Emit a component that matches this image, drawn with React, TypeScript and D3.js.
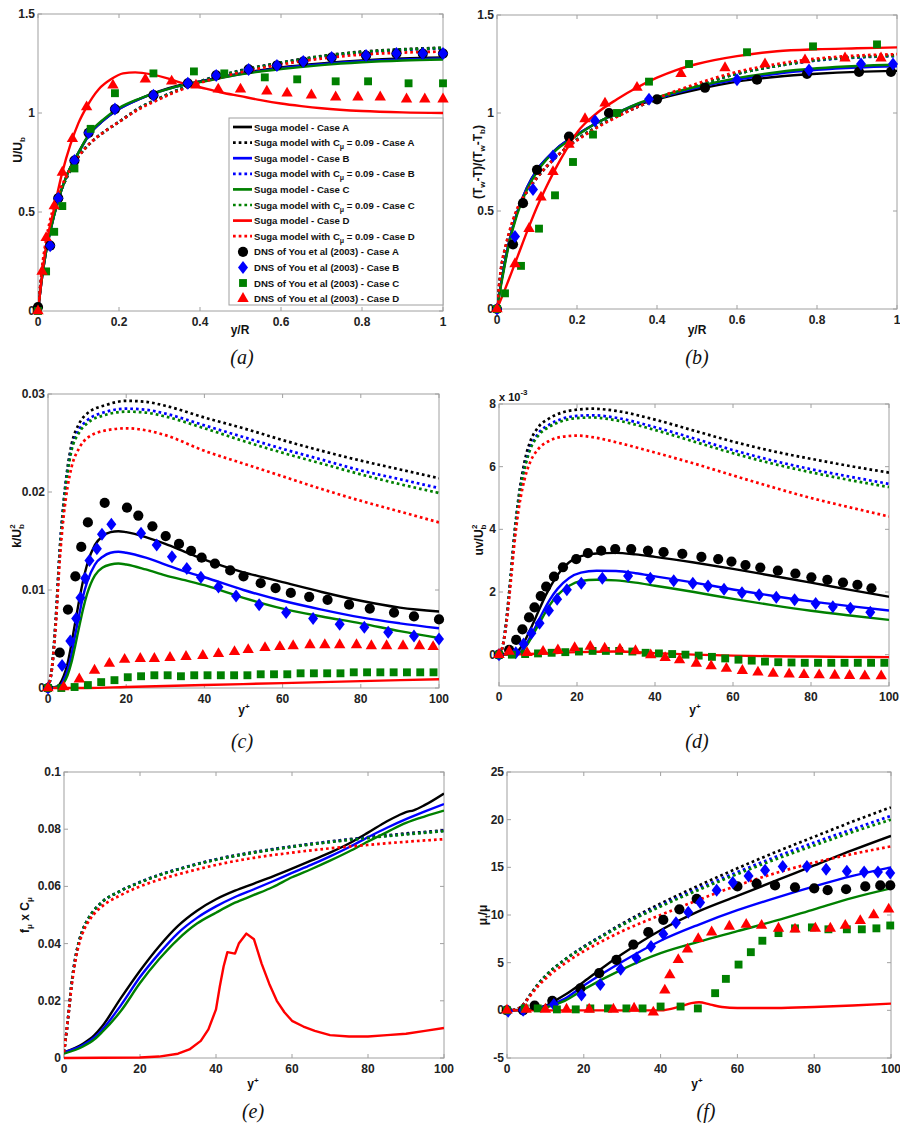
import React from 'react';
import * as d3 from 'd3';

type P = [number, number];

// ---------- Panel (a): U/Ub vs y/R ----------
const aSolidA: P[] = [[0,0],[0.01,0.17],[0.02,0.3],[0.03,0.4],[0.05,0.56],[0.07,0.68],[0.1,0.8],[0.13,0.9],[0.16,0.96],[0.2,1.02],[0.25,1.07],[0.3,1.11],[0.35,1.14],[0.4,1.16],[0.5,1.2],[0.6,1.23],[0.7,1.25],[0.8,1.265],[0.9,1.275],[1,1.28]];
const aSolidB: P[] = [[0,0],[0.01,0.17],[0.02,0.3],[0.03,0.4],[0.05,0.56],[0.07,0.68],[0.1,0.8],[0.13,0.9],[0.16,0.96],[0.2,1.02],[0.25,1.07],[0.3,1.108],[0.35,1.137],[0.4,1.157],[0.5,1.197],[0.6,1.226],[0.7,1.246],[0.8,1.261],[0.9,1.27],[1,1.275]];
const aSolidC: P[] = [[0,0],[0.01,0.17],[0.02,0.3],[0.03,0.4],[0.05,0.56],[0.07,0.68],[0.1,0.8],[0.13,0.905],[0.16,0.965],[0.2,1.025],[0.25,1.072],[0.3,1.108],[0.35,1.137],[0.4,1.156],[0.5,1.195],[0.6,1.222],[0.7,1.242],[0.8,1.256],[0.9,1.265],[1,1.27]];
const aSolidD: P[] = [[0,0],[0.01,0.18],[0.02,0.33],[0.04,0.52],[0.06,0.7],[0.08,0.84],[0.1,0.95],[0.12,1.03],[0.15,1.12],[0.18,1.17],[0.21,1.2],[0.24,1.205],[0.28,1.195],[0.32,1.175],[0.35,1.155],[0.4,1.13],[0.45,1.105],[0.5,1.085],[0.55,1.065],[0.6,1.048],[0.65,1.035],[0.7,1.024],[0.8,1.01],[0.9,1.003],[1,1.0]];
const aDotA: P[] = [[0,0],[0.01,0.2],[0.02,0.33],[0.03,0.43],[0.05,0.57],[0.07,0.67],[0.1,0.78],[0.13,0.85],[0.16,0.9],[0.2,0.955],[0.25,1.025],[0.3,1.075],[0.35,1.12],[0.4,1.16],[0.5,1.215],[0.6,1.255],[0.7,1.288],[0.8,1.31],[0.9,1.322],[1,1.33]];
const aDotB: P[] = [[0,0],[0.01,0.2],[0.02,0.33],[0.03,0.43],[0.05,0.57],[0.07,0.67],[0.1,0.78],[0.13,0.85],[0.16,0.9],[0.2,0.955],[0.25,1.025],[0.3,1.075],[0.35,1.12],[0.4,1.158],[0.5,1.212],[0.6,1.252],[0.7,1.284],[0.8,1.305],[0.9,1.318],[1,1.325]];
const aDotC: P[] = [[0,0],[0.01,0.2],[0.02,0.33],[0.03,0.43],[0.05,0.57],[0.07,0.67],[0.1,0.78],[0.13,0.85],[0.16,0.9],[0.2,0.955],[0.25,1.025],[0.3,1.075],[0.35,1.12],[0.4,1.158],[0.5,1.213],[0.6,1.253],[0.7,1.286],[0.8,1.308],[0.9,1.32],[1,1.328]];
const aDotD: P[] = [[0,0],[0.01,0.22],[0.02,0.36],[0.03,0.46],[0.05,0.59],[0.07,0.68],[0.1,0.78],[0.13,0.85],[0.16,0.9],[0.2,0.955],[0.25,1.02],[0.3,1.07],[0.35,1.115],[0.4,1.152],[0.5,1.205],[0.6,1.245],[0.7,1.275],[0.8,1.295],[0.9,1.305],[1,1.31]];
const aDnsA: P[] = [[0,0.02],[0.03,0.33],[0.05,0.57],[0.09,0.76],[0.125,0.9],[0.19,1.02],[0.285,1.09],[0.37,1.15],[0.44,1.19],[0.52,1.22],[0.59,1.24],[0.655,1.26],[0.725,1.28],[0.81,1.29],[0.885,1.3],[0.95,1.3],[1,1.3]];
const aDnsB: P[] = [[0.03,0.33],[0.05,0.57],[0.09,0.76],[0.125,0.9],[0.19,1.02],[0.285,1.09],[0.37,1.15],[0.44,1.19],[0.52,1.22],[0.59,1.24],[0.655,1.26],[0.725,1.28],[0.81,1.29],[0.885,1.3],[0.95,1.3],[1,1.3]];
const aDnsC: P[] = [[0,0],[0.02,0.2],[0.04,0.4],[0.06,0.53],[0.09,0.72],[0.13,0.92],[0.19,1.1],[0.285,1.2],[0.385,1.21],[0.46,1.2],[0.56,1.18],[0.64,1.17],[0.735,1.16],[0.815,1.16],[0.915,1.15],[1,1.15]];
const aDnsD: P[] = [[0,0],[0.01,0.2],[0.02,0.37],[0.04,0.53],[0.06,0.7],[0.085,0.87],[0.12,1.03],[0.185,1.14],[0.265,1.17],[0.33,1.16],[0.39,1.14],[0.445,1.12],[0.5,1.12],[0.565,1.11],[0.615,1.1],[0.675,1.09],[0.735,1.08],[0.79,1.08],[0.845,1.08],[0.91,1.07],[0.955,1.07],[1,1.07]];

// ---------- Panel (b): (Tw-T)/(Tw-Tb) vs y/R ----------
const bSolidA: P[] = [[0,0],[0.01,0.13],[0.02,0.24],[0.03,0.34],[0.05,0.49],[0.075,0.62],[0.1,0.71],[0.125,0.77],[0.15,0.82],[0.2,0.89],[0.25,0.95],[0.3,1.0],[0.35,1.04],[0.4,1.07],[0.5,1.12],[0.6,1.16],[0.7,1.185],[0.8,1.2],[0.9,1.21],[1,1.215]];
const bSolidB: P[] = [[0,0],[0.01,0.13],[0.02,0.24],[0.03,0.34],[0.05,0.49],[0.075,0.62],[0.1,0.71],[0.125,0.77],[0.15,0.82],[0.2,0.89],[0.25,0.95],[0.3,1.0],[0.35,1.045],[0.4,1.075],[0.5,1.13],[0.6,1.17],[0.7,1.2],[0.8,1.22],[0.9,1.232],[1,1.238]];
const bSolidC: P[] = [[0,0],[0.01,0.12],[0.02,0.23],[0.03,0.33],[0.05,0.48],[0.075,0.61],[0.1,0.7],[0.125,0.765],[0.15,0.815],[0.2,0.885],[0.25,0.95],[0.3,1.0],[0.35,1.047],[0.4,1.08],[0.5,1.135],[0.6,1.178],[0.7,1.208],[0.8,1.228],[0.9,1.24],[1,1.246]];
const bSolidD: P[] = [[0,0],[0.02,0.1],[0.05,0.26],[0.08,0.42],[0.1,0.52],[0.125,0.63],[0.15,0.73],[0.175,0.82],[0.2,0.9],[0.25,1.0],[0.3,1.07],[0.35,1.13],[0.4,1.18],[0.45,1.22],[0.5,1.25],[0.6,1.29],[0.7,1.315],[0.8,1.325],[0.9,1.33],[1,1.335]];
const bDotA: P[] = [[0,0],[0.01,0.2],[0.02,0.3],[0.03,0.38],[0.05,0.5],[0.075,0.6],[0.1,0.67],[0.15,0.78],[0.2,0.865],[0.25,0.93],[0.3,0.985],[0.35,1.03],[0.4,1.07],[0.5,1.14],[0.6,1.2],[0.7,1.24],[0.8,1.27],[0.9,1.285],[1,1.295]];
const bDotB: P[] = [[0,0],[0.01,0.2],[0.02,0.3],[0.03,0.38],[0.05,0.5],[0.075,0.6],[0.1,0.67],[0.15,0.78],[0.2,0.865],[0.25,0.93],[0.3,0.985],[0.35,1.03],[0.4,1.07],[0.5,1.14],[0.6,1.2],[0.7,1.24],[0.8,1.268],[0.9,1.283],[1,1.29]];
const bDotC: P[] = [[0,0],[0.01,0.2],[0.02,0.3],[0.03,0.38],[0.05,0.5],[0.075,0.6],[0.1,0.67],[0.15,0.78],[0.2,0.865],[0.25,0.93],[0.3,0.985],[0.35,1.03],[0.4,1.07],[0.5,1.14],[0.6,1.2],[0.7,1.24],[0.8,1.27],[0.9,1.285],[1,1.292]];
const bDotD: P[] = [[0,0],[0.01,0.21],[0.02,0.31],[0.03,0.39],[0.05,0.51],[0.075,0.6],[0.1,0.67],[0.15,0.78],[0.2,0.86],[0.25,0.925],[0.3,0.98],[0.35,1.03],[0.4,1.075],[0.5,1.15],[0.6,1.21],[0.7,1.25],[0.8,1.278],[0.9,1.293],[1,1.3]];
const bDnsA: P[] = [[0,0],[0.04,0.33],[0.065,0.54],[0.1,0.71],[0.18,0.88],[0.28,1.0],[0.4,1.07],[0.52,1.13],[0.65,1.17],[0.775,1.2],[0.905,1.21],[0.985,1.21]];
const bDnsB: P[] = [[0,0],[0.045,0.37],[0.09,0.61],[0.14,0.78],[0.245,0.96],[0.38,1.07],[0.6,1.17],[0.78,1.22],[0.91,1.25],[0.99,1.25]];
const bDnsC: P[] = [[0,0],[0.02,0.08],[0.06,0.22],[0.105,0.41],[0.145,0.58],[0.19,0.75],[0.24,0.89],[0.3,1.0],[0.38,1.16],[0.48,1.25],[0.625,1.31],[0.79,1.34],[0.95,1.35]];
const bDnsD: P[] = [[0,0],[0.045,0.23],[0.08,0.41],[0.11,0.57],[0.14,0.7],[0.18,0.84],[0.22,0.97],[0.27,1.05],[0.35,1.13],[0.46,1.2],[0.57,1.23],[0.67,1.25],[0.77,1.27],[0.87,1.28],[0.96,1.28]];

// ---------- Panel (c): k/Ub^2 vs y+ ----------
const cSolidA: P[] = [[0,0],[2,0.0001],[3,0.0004],[4,0.0012],[5,0.0025],[6,0.0045],[7,0.0068],[8,0.009],[9,0.011],[10,0.0126],[12,0.0146],[14,0.0155],[16,0.0159],[18,0.016],[20,0.0159],[25,0.0154],[30,0.0147],[35,0.0139],[40,0.0131],[45,0.0124],[50,0.0118],[55,0.0113],[60,0.0108],[70,0.0098],[80,0.0089],[90,0.0082],[100,0.0078]];
const cSolidB: P[] = [[0,0],[3,0.0002],[4,0.0008],[5,0.0018],[6,0.0034],[7,0.0055],[8,0.0075],[9,0.0094],[10,0.0108],[12,0.0126],[14,0.0134],[16,0.0138],[18,0.0139],[20,0.0138],[25,0.0133],[30,0.0126],[35,0.0119],[40,0.0113],[50,0.01],[60,0.0089],[70,0.008],[80,0.0072],[90,0.0066],[100,0.0061]];
const cSolidC: P[] = [[0,0],[3,0.0001],[4,0.0005],[5,0.0013],[6,0.0026],[7,0.0044],[8,0.0063],[9,0.0081],[10,0.0096],[12,0.0115],[14,0.0123],[16,0.0126],[18,0.0127],[20,0.0126],[25,0.0121],[30,0.0115],[35,0.011],[40,0.0105],[50,0.0092],[60,0.0081],[70,0.0073],[80,0.0066],[90,0.0058],[100,0.0051]];
const cSolidD: P[] = [[0,0],[10,0],[20,0.0001],[40,0.0003],[60,0.0005],[80,0.0007],[100,0.0009]];
const cDotA: P[] = [[0,0],[1,0.002],[2,0.007],[3,0.014],[4,0.019],[5,0.0225],[6,0.0248],[8,0.027],[10,0.028],[15,0.0289],[20,0.0293],[25,0.0292],[30,0.0288],[40,0.0276],[50,0.0265],[60,0.0253],[70,0.0242],[80,0.0232],[90,0.0223],[100,0.0214]];
const cDotB: P[] = [[0,0],[1,0.002],[2,0.007],[3,0.014],[4,0.0188],[5,0.0222],[6,0.0244],[8,0.0264],[10,0.0273],[15,0.0282],[20,0.0285],[25,0.0284],[30,0.028],[40,0.0268],[50,0.0256],[60,0.0244],[70,0.0233],[80,0.0222],[90,0.0213],[100,0.0204]];
const cDotC: P[] = [[0,0],[1,0.002],[2,0.007],[3,0.0138],[4,0.0186],[5,0.022],[6,0.0242],[8,0.0261],[10,0.027],[15,0.0279],[20,0.0282],[25,0.0281],[30,0.0277],[40,0.0265],[50,0.0252],[60,0.024],[70,0.0229],[80,0.0218],[90,0.0208],[100,0.0199]];
const cDotD: P[] = [[0,0],[1,0.002],[2,0.0065],[3,0.013],[4,0.0175],[5,0.0205],[6,0.0225],[8,0.0245],[10,0.0255],[15,0.0263],[20,0.0265],[25,0.0263],[30,0.0258],[40,0.0242],[50,0.0229],[60,0.0216],[70,0.0203],[80,0.0191],[90,0.018],[100,0.0169]];
const cDnsA: P[] = [[0,0],[3,0.0036],[5.1,0.008],[7,0.0114],[8.5,0.0144],[10.2,0.0169],[14.5,0.0189],[20.2,0.0184],[23.1,0.0176],[26.7,0.0165],[30.1,0.0155],[33.5,0.0147],[36.6,0.014],[39.3,0.0133],[42.7,0.0127],[46.6,0.012],[50,0.0114],[54.4,0.0107],[58.2,0.0102],[62.1,0.0097],[66.8,0.0093],[71.5,0.009],[77,0.0085],[82.3,0.0081],[88.5,0.0077],[93.6,0.0073],[100,0.007]];
const cDnsB: P[] = [[0,0],[3.6,0.0023],[5.7,0.0048],[7.2,0.0071],[8.3,0.0092],[9.5,0.0112],[10.6,0.013],[12.5,0.0142],[13.8,0.0157],[16.2,0.0167],[23.8,0.0158],[27.8,0.0146],[31.7,0.0134],[35.5,0.0122],[39.1,0.0113],[43.6,0.0103],[48.1,0.0094],[54,0.0085],[60.9,0.0077],[67.8,0.0071],[74.6,0.0065],[80.9,0.0062],[87,0.0057],[93.6,0.0053],[100,0.005]];
const cDnsC: P[] = [[0,0],[3.4,0],[6.8,0.0001],[10.2,0.0003],[13.6,0.0006],[17,0.0008],[20.4,0.0011],[23.8,0.0012],[27.2,0.0013],[30.6,0.0013],[34,0.0012],[37.4,0.0013],[40.8,0.0013],[44.2,0.0013],[47.6,0.0013],[51,0.0013],[54.4,0.0014],[57.8,0.0014],[61.2,0.0014],[64.6,0.0015],[68,0.0015],[71.4,0.0015],[74.8,0.0015],[78.2,0.0016],[81.6,0.0016],[85,0.0016],[88.4,0.0016],[91.8,0.0016],[95.2,0.0016],[98.6,0.0016]];
const cDnsD: P[] = [[0,0],[4,0.0001],[8,0.0009],[11.9,0.0018],[15.7,0.0025],[19.6,0.0029],[23.6,0.003],[27.2,0.003],[31.2,0.0031],[35.3,0.0032],[39.6,0.0033],[43.6,0.0035],[47.7,0.0037],[51.2,0.0039],[55.5,0.0041],[59.3,0.0042],[62.7,0.0043],[67,0.0044],[70.8,0.0044],[74.6,0.0044],[78.9,0.0044],[82.7,0.0043],[86.6,0.0043],[90.8,0.0043],[95,0.0043],[98.5,0.0042]];

// ---------- Panel (d): uv/Ub^2 (x10^-3) vs y+ ----------
const dSolidA: P[] = [[0,0],[4,0.05],[6,0.3],[8,0.8],[10,1.35],[12,1.9],[14,2.35],[16,2.7],[18,2.95],[20,3.1],[25,3.23],[30,3.25],[35,3.2],[40,3.12],[50,2.94],[60,2.74],[70,2.52],[80,2.3],[90,2.07],[100,1.85]];
const dSolidB: P[] = [[0,0],[5,0.05],[7,0.35],[9,0.8],[11,1.3],[13,1.75],[15,2.1],[18,2.45],[21,2.62],[25,2.68],[30,2.67],[35,2.6],[40,2.5],[50,2.3],[60,2.08],[70,1.88],[80,1.7],[90,1.55],[100,1.41]];
const dSolidC: P[] = [[0,0],[5,0.03],[7,0.28],[9,0.7],[11,1.15],[13,1.58],[15,1.9],[18,2.2],[21,2.35],[25,2.39],[30,2.37],[35,2.3],[40,2.2],[50,2.0],[60,1.78],[70,1.58],[80,1.4],[90,1.25],[100,1.11]];
const dSolidD: P[] = [[0,0],[10,0.03],[20,0.08],[30,0.1],[40,0.05],[50,0],[60,-0.03],[70,-0.05],[80,-0.06],[90,-0.07],[100,-0.08]];
const dDotA: P[] = [[0,0],[1,0.3],[2,1.2],[3,2.5],[4,3.9],[5,5.0],[6,5.8],[7,6.4],[8,6.8],[10,7.25],[13,7.55],[16,7.72],[20,7.82],[24,7.85],[30,7.78],[40,7.5],[50,7.15],[60,6.8],[70,6.5],[80,6.25],[90,6.02],[100,5.81]];
const dDotB: P[] = [[0,0],[1,0.3],[2,1.2],[3,2.5],[4,3.85],[5,4.9],[6,5.65],[7,6.2],[8,6.6],[10,7.05],[13,7.35],[16,7.52],[20,7.62],[24,7.64],[30,7.56],[40,7.26],[50,6.9],[60,6.53],[70,6.2],[80,5.92],[90,5.68],[100,5.45]];
const dDotC: P[] = [[0,0],[1,0.3],[2,1.2],[3,2.5],[4,3.85],[5,4.88],[6,5.62],[7,6.15],[8,6.55],[10,6.98],[13,7.28],[16,7.45],[20,7.55],[24,7.57],[30,7.48],[40,7.17],[50,6.8],[60,6.43],[70,6.1],[80,5.82],[90,5.57],[100,5.35]];
const dDotD: P[] = [[0,0],[1,0.3],[2,1.1],[3,2.3],[4,3.6],[5,4.6],[6,5.3],[7,5.8],[8,6.15],[10,6.55],[13,6.83],[16,6.95],[20,6.99],[25,6.92],[30,6.78],[40,6.45],[50,6.1],[60,5.72],[70,5.35],[80,5.0],[90,4.7],[100,4.41]];
const dDnsA: P[] = [[0,0],[2.6,0.15],[4.4,0.47],[6,0.81],[7.7,1.19],[9.1,1.51],[10.7,1.87],[12.1,2.17],[14.1,2.49],[16.4,2.79],[19.8,3.05],[22.8,3.24],[26.2,3.32],[29.8,3.37],[33.9,3.37],[38.2,3.32],[42.2,3.27],[47,3.22],[51.9,3.12],[56.2,3.05],[59.6,2.97],[63.2,2.86],[67,2.78],[71.5,2.68],[76,2.59],[80.1,2.47],[84.2,2.39],[88.2,2.3],[91.9,2.23],[95.5,2.12]];
const dDnsB: P[] = [[0,0],[4.3,0.06],[6.3,0.34],[8.3,0.68],[10.4,1.0],[12.8,1.41],[14.9,1.77],[17.4,2.07],[21.1,2.28],[26.5,2.44],[33.1,2.51],[38.8,2.44],[44.8,2.36],[49.7,2.28],[53.6,2.19],[57.7,2.09],[62.3,1.98],[66.7,1.91],[71.1,1.83],[75.8,1.75],[81.2,1.63],[85.6,1.53],[90.1,1.48],[95.2,1.35]];
const dDnsC: P[] = [[0,0],[3.3,0],[6.7,0.02],[10,0.04],[13.5,0.06],[17,0.08],[20.5,0.1],[24,0.12],[27.4,0.12],[30.8,0.12],[34.2,0.1],[37.6,0.06],[41,0.04],[44.4,0.02],[47.8,0.0],[51.2,-0.03],[54.6,-0.07],[58,-0.12],[61.4,-0.16],[64.8,-0.19],[68.2,-0.22],[71.6,-0.24],[75,-0.25],[78.4,-0.26],[81.8,-0.26],[85.2,-0.26],[88.6,-0.26],[92,-0.26],[95.4,-0.26],[98.8,-0.26]];
const dDnsD: P[] = [[0,0],[2.6,0.1],[7.2,0.06],[11.3,0.1],[15.1,0.15],[19.4,0.22],[23.4,0.26],[27.1,0.2],[31,0.17],[35,0.12],[38.9,-0.01],[42.6,-0.1],[46.3,-0.17],[50.6,-0.28],[54.4,-0.36],[58.3,-0.44],[62.4,-0.51],[66.4,-0.56],[70.3,-0.6],[74.4,-0.62],[78.2,-0.64],[82.1,-0.65],[86.1,-0.66],[89.9,-0.67],[93.8,-0.68],[98,-0.68]];

// ---------- Panel (e): f_mu x C_mu vs y+ ----------
const eSolidA: P[] = [[0,0.002],[5,0.005],[8,0.008],[10,0.011],[15,0.021],[20,0.0305],[25,0.039],[30,0.0462],[35,0.0515],[40,0.0555],[45,0.0585],[50,0.061],[55,0.0635],[60,0.0662],[65,0.069],[70,0.0718],[75,0.075],[80,0.0788],[85,0.0828],[88,0.0848],[90,0.086],[92,0.0866],[95,0.0885],[100,0.0925]];
const eSolidB: P[] = [[0,0.002],[5,0.0045],[8,0.0072],[10,0.0098],[15,0.0185],[20,0.0283],[25,0.0365],[30,0.0437],[35,0.049],[40,0.053],[45,0.0563],[50,0.059],[55,0.0618],[60,0.0647],[65,0.0675],[70,0.0705],[75,0.0737],[80,0.0772],[85,0.0805],[90,0.0835],[95,0.0862],[100,0.0888]];
const eSolidC: P[] = [[0,0.0015],[5,0.004],[8,0.0065],[10,0.009],[15,0.0165],[20,0.0262],[25,0.0345],[30,0.0415],[35,0.047],[40,0.0508],[45,0.0543],[50,0.057],[55,0.0598],[60,0.0632],[65,0.066],[70,0.069],[75,0.0722],[80,0.0757],[85,0.079],[90,0.0822],[95,0.0845],[100,0.0865]];
const eSolidD: P[] = [[0,0],[20,0.0002],[25,0.0005],[30,0.0015],[33,0.003],[36,0.006],[38,0.01],[40,0.017],[41,0.025],[42,0.032],[43,0.037],[45,0.0365],[46,0.04],[48,0.0435],[50,0.0415],[52,0.033],[54,0.026],[56,0.02],[58,0.016],[60,0.013],[63,0.011],[66,0.0095],[70,0.008],[75,0.0075],[80,0.0075],[85,0.008],[90,0.0085],[95,0.0095],[100,0.0105]];
const eDotA: P[] = [[0,0.002],[1,0.013],[2,0.026],[3,0.035],[4,0.041],[5,0.045],[7,0.05],[10,0.0545],[15,0.0585],[20,0.0615],[25,0.064],[30,0.066],[40,0.0695],[50,0.072],[60,0.074],[70,0.0757],[80,0.0772],[90,0.0785],[100,0.0796]];
const eDotB: P[] = [[0,0.002],[1,0.013],[2,0.026],[3,0.035],[4,0.041],[5,0.045],[7,0.05],[10,0.0545],[15,0.0585],[20,0.0615],[25,0.064],[30,0.066],[40,0.0694],[50,0.0719],[60,0.0739],[70,0.0756],[80,0.077],[90,0.0783],[100,0.0794]];
const eDotC: P[] = [[0,0.002],[1,0.013],[2,0.026],[3,0.035],[4,0.041],[5,0.045],[7,0.05],[10,0.0545],[15,0.0585],[20,0.0614],[25,0.0639],[30,0.0659],[40,0.0693],[50,0.0718],[60,0.0738],[70,0.0755],[80,0.0769],[90,0.0782],[100,0.0793]];
const eDotD: P[] = [[0,0.002],[1,0.013],[2,0.025],[3,0.034],[4,0.04],[5,0.044],[7,0.0488],[10,0.053],[15,0.057],[20,0.06],[25,0.0623],[30,0.0642],[40,0.0675],[50,0.07],[60,0.0718],[70,0.0733],[80,0.0745],[90,0.0756],[100,0.0765]];

// ---------- Panel (f): mu_t/mu vs y+ ----------
const fSolidA: P[] = [[0,0],[5,0.1],[10,0.5],[12,0.9],[15,1.6],[20,3.0],[25,4.5],[30,5.9],[40,8.4],[50,10.4],[60,12.0],[70,13.6],[80,15.2],[90,16.8],[100,18.3]];
const fSolidB: P[] = [[0,0],[5,0.05],[10,0.4],[15,1.2],[20,2.6],[30,5.1],[40,7.3],[50,9.0],[60,10.5],[70,11.8],[80,13.0],[90,14.1],[100,15.0]];
const fSolidC: P[] = [[0,0],[5,0.05],[10,0.3],[15,1.0],[20,2.2],[30,4.3],[40,6.0],[50,7.2],[60,8.3],[70,9.4],[80,10.6],[90,11.8],[100,12.8]];
const fSolidD: P[] = [[0,0],[40,0],[45,0.4],[48,0.75],[50,0.85],[53,0.6],[56,0.35],[60,0.25],[70,0.25],[80,0.35],[90,0.5],[100,0.7]];
const fDotA: P[] = [[0,0],[2,0.05],[4,0.5],[6,1.6],[8,2.7],[10,3.6],[15,5.3],[20,6.7],[25,7.9],[30,9.1],[40,11.2],[50,13.1],[60,14.9],[70,16.6],[80,18.2],[90,19.8],[100,21.3]];
const fDotB: P[] = [[0,0],[2,0.05],[4,0.5],[6,1.6],[8,2.7],[10,3.6],[15,5.3],[20,6.65],[25,7.85],[30,9.0],[40,11.0],[50,12.8],[60,14.5],[70,16.1],[80,17.6],[90,19.0],[100,20.4]];
const fDotC: P[] = [[0,0],[2,0.05],[4,0.5],[6,1.6],[8,2.7],[10,3.6],[15,5.3],[20,6.6],[25,7.8],[30,8.95],[40,10.9],[50,12.65],[60,14.3],[70,15.85],[80,17.3],[90,18.7],[100,20.0]];
const fDotD: P[] = [[0,0],[2,0.05],[4,0.5],[6,1.5],[8,2.5],[10,3.3],[15,4.9],[20,6.2],[25,7.3],[30,8.3],[40,10.0],[50,11.6],[60,13.1],[70,14.4],[80,15.5],[90,16.4],[100,17.2]];
const fDnsA: P[] = [[0,0],[4.2,0],[7.2,0.5],[11.8,1.0],[19.1,2.3],[24,3.9],[28.5,5.3],[32.9,6.9],[36.8,8.2],[40.7,9.5],[44.9,10.6],[49.4,11.7],[60,13.0],[65,13.3],[69.8,13.1],[75,12.9],[80,12.8],[83.5,12.6],[88.3,12.7],[93.3,13.0],[97.2,13.1],[99.8,13.1]];
const fDnsB: P[] = [[0.3,-0.1],[4.2,0],[12.2,0.6],[19.4,1.6],[24.3,2.7],[29.6,4.3],[33.7,5.5],[37.5,6.7],[40.7,8.0],[44,9.2],[47.2,10.3],[50.3,11.3],[54.6,12.6],[58.8,13.4],[62.9,14.1],[67.2,14.7],[71.8,15.1],[78.1,15.1],[83.1,14.8],[88.5,14.6],[93,14.5],[96.6,14.5],[99.8,14.4]];
const fDnsC: P[] = [[0,0],[4.6,0.2],[8,0.2],[13,0.1],[17.9,0.1],[21.7,0.2],[26.3,0.2],[31.1,0.2],[35.3,0.2],[40,0.4],[45.2,0.4],[49.7,0.2],[54.2,1.8],[57,3.3],[60.3,4.8],[63.5,6.1],[66.5,7.3],[70.7,8.1],[75,8.6],[79.4,8.7],[83.7,8.5],[88.5,8.5],[92.4,8.5],[96.2,8.6],[99.8,8.9]];
const fDnsD: P[] = [[0,0],[5,0.1],[10,0.1],[15.5,0.1],[21.4,0.1],[27.7,0.1],[33.1,0.2],[38.1,-0.2],[41.1,2.1],[42.4,3.7],[44.6,5.3],[47,6.4],[49.8,7.5],[53.3,8.2],[57.9,8.8],[62.3,9.0],[66.3,8.9],[70.7,8.6],[75,8.5],[80.3,8.6],[84.2,8.6],[88.1,8.9],[92,9.4],[95.5,10.0],[99.4,10.6]];

// ---------- ticks ----------
const ticksYR = [0, 0.2, 0.4, 0.6, 0.8, 1];
const ticksYplus = [0, 20, 40, 60, 80, 100];
const ticksA = [0, 0.5, 1, 1.5];
const ticksC = [0, 0.01, 0.02, 0.03];
const ticksD = [0, 2, 4, 6, 8];
const ticksE = [0, 0.02, 0.04, 0.06, 0.08, 0.1];
const ticksF = [-5, 0, 5, 10, 15, 20, 25];

const legendLabels = [
  'Suga model - Case A', 'Suga model with C|μ| = 0.09 - Case A',
  'Suga model - Case B', 'Suga model with C|μ| = 0.09 - Case B',
  'Suga model - Case C', 'Suga model with C|μ| = 0.09 - Case C',
  'Suga model - Case D', 'Suga model with C|μ| = 0.09 - Case D',
  'DNS of You et al (2003) - Case A', 'DNS of You et al (2003) - Case B',
  'DNS of You et al (2003) - Case C', 'DNS of You et al (2003) - Case D',
];

const BLACK = '#000000';
const BLUE = '#0000ff';
const GREEN = '#008000';
const RED = '#ff0000';
const AXIS = '#a0a0a0';
const FONT = "'Liberation Sans', Arial, Helvetica, sans-serif";
const SERIF = "'Liberation Serif', 'Times New Roman', serif";

type Shape = 'circle' | 'diamond' | 'square' | 'triangle';
interface LineSpec { data: P[]; color: string; dotted?: boolean; linear?: boolean }
interface MarkSpec { data: P[]; color: string; shape: Shape }
interface Box { l: number; r: number; t: number; b: number }

const symbolPath = (shape: Shape) => {
  if (shape === 'diamond') {
    const p = d3.path();
    p.moveTo(0, -6.5); p.lineTo(5, 0); p.lineTo(0, 6.5); p.lineTo(-5, 0); p.closePath();
    return p.toString();
  }
  const type = shape === 'circle' ? d3.symbolCircle : shape === 'square' ? d3.symbolSquare : d3.symbolTriangle;
  const size = shape === 'circle' ? 82 : shape === 'square' ? 62 : 56;
  return d3.symbol().type(type).size(size)() as string;
};

function lineSet(cols: string[], solid: P[][], dots: P[][]): LineSpec[] {
  const out: LineSpec[] = [];
  for (let i = 0; i < 4; i++) {
    out.push({ data: solid[i], color: cols[i] });
    out.push({ data: dots[i], color: cols[i], dotted: true });
  }
  return out;
}
const COLS = [BLACK, BLUE, GREEN, RED];
const SHAPES: Shape[] = ['circle', 'diamond', 'square', 'triangle'];
const markSet = (sets: P[][]): MarkSpec[] => sets.map((d, i) => ({ data: d, color: COLS[i], shape: SHAPES[i] }));

interface PanelProps {
  id: string; box: Box; xDomain: [number, number]; yDomain: [number, number];
  xTicks: number[]; yTicks: number[]; lines: LineSpec[]; marks: MarkSpec[];
  children?: React.ReactNode;
}

function Panel({ id, box, xDomain, yDomain, xTicks, yTicks, lines, marks, children }: PanelProps) {
  const x = d3.scaleLinear().domain(xDomain).range([box.l, box.r]);
  const y = d3.scaleLinear().domain(yDomain).range([box.b, box.t]);
  const tl = 4;
  return (
    <g>
      <defs>
        <clipPath id={`clip-${id}`}>
          <rect x={box.l} y={box.t - 2} width={box.r - box.l} height={box.b - box.t + 4} />
        </clipPath>
      </defs>
      <rect x={box.l} y={box.t} width={box.r - box.l} height={box.b - box.t} fill="#fff" stroke={AXIS} strokeWidth={1} />
      {xTicks.map((v) => (
        <g key={`xt${v}`}>
          <line x1={x(v)} x2={x(v)} y1={box.b} y2={box.b - tl} stroke={AXIS} />
          <line x1={x(v)} x2={x(v)} y1={box.t} y2={box.t + tl} stroke={AXIS} />
          <text x={x(v)} y={box.b + 15} textAnchor="middle" fontSize={12} fontWeight="bold" fontFamily={FONT} fill="#222">{String(v)}</text>
        </g>
      ))}
      {yTicks.map((v) => (
        <g key={`yt${v}`}>
          <line x1={box.l} x2={box.l + tl} y1={y(v)} y2={y(v)} stroke={AXIS} />
          <line x1={box.r} x2={box.r - tl} y1={y(v)} y2={y(v)} stroke={AXIS} />
          <text x={box.l - 3} y={y(v) + 4} textAnchor="end" fontSize={12} fontWeight="bold" fontFamily={FONT} fill="#222">{String(v)}</text>
        </g>
      ))}
      <g clipPath={`url(#clip-${id})`}>
        {lines.map((s, i) => {
          const gen = d3.line<P>().x((d) => x(d[0])).y((d) => y(d[1])).curve(s.linear ? d3.curveLinear : d3.curveMonotoneX);
          return (
            <path key={i} d={gen(s.data) || ''} fill="none" stroke={s.color} strokeWidth={s.dotted ? 2.7 : 2.4}
              strokeDasharray={s.dotted ? '2.7 3' : undefined} strokeLinejoin="round" />
          );
        })}
      </g>
      {marks.map((m, i) => (
        <g key={`m${i}`}>
          {m.data.map((d, j) => (
            <path key={j} d={symbolPath(m.shape)} transform={`translate(${x(d[0])},${y(d[1])})`} fill={m.color} />
          ))}
        </g>
      ))}
      {children}
    </g>
  );
}

function Legend() {
  const lx = 229, ly = 118, lw = 214, lh = 187;
  const step = 15.6;
  const y0 = 127;
  return (
    <g>
      <rect x={lx} y={ly} width={lw} height={lh} fill="#fff" stroke={AXIS} />
      {legendLabels.map((lab, i) => {
        const yy = y0 + i * step;
        const parts = lab.split('|');
        let sample: React.ReactNode;
        if (i < 8) {
          const col = COLS[Math.floor(i / 2)];
          const dotted = i % 2 === 1;
          sample = <line x1={233} x2={252} y1={yy} y2={yy} stroke={col} strokeWidth={2.7} strokeDasharray={dotted ? '2.7 3' : undefined} />;
        } else {
          const k = i - 8;
          sample = <path d={symbolPath(SHAPES[k])} transform={`translate(243,${yy})`} fill={COLS[k]} />;
        }
        return (
          <g key={i}>
            {sample}
            <text x={254} y={yy + 3.5} fontSize={9.6} fontWeight="bold" fontFamily={FONT} fill="#111">
              {parts.length === 1 ? lab : (
                <>
                  {parts[0]}
                  <tspan fontSize={7} dy={3}>{parts[1]}</tspan>
                  <tspan dy={-3}>{parts[2]}</tspan>
                </>
              )}
            </text>
          </g>
        );
      })}
    </g>
  );
}

const labelStyle = { fontSize: 12, fontWeight: 'bold' as const, fontFamily: FONT, fill: '#111' };
const capStyle = { fontSize: 20, fontStyle: 'italic' as const, fontFamily: SERIF, fill: '#111' };

function YPlus({ x, y }: { x: number; y: number }) {
  return (
    <text x={x} y={y} textAnchor="middle" {...labelStyle}>
      y<tspan fontSize={8} dy={-5}>+</tspan>
    </text>
  );
}

export default function App() {
  const boxA: Box = { l: 38, r: 443, t: 14, b: 311 };
  const boxB: Box = { l: 497, r: 897, t: 15, b: 309 };
  const boxC: Box = { l: 48, r: 439, t: 394, b: 688 };
  const boxD: Box = { l: 499, r: 889, t: 404, b: 686 };
  const boxE: Box = { l: 64, r: 444, t: 772, b: 1058 };
  const boxF: Box = { l: 507, r: 891, t: 772, b: 1058 };

  return (
    <svg width={900} height={1128} style={{ position: 'absolute', left: 0, top: 0, background: '#fff' }}>
      <rect x={0} y={0} width={900} height={1128} fill="#fff" />

      {/* (a) */}
      <Panel id="a" box={boxA} xDomain={[0, 1]} yDomain={[0, 1.5]} xTicks={ticksYR} yTicks={ticksA}
        lines={lineSet(COLS, [aSolidA, aSolidB, aSolidC, aSolidD], [aDotA, aDotB, aDotC, aDotD])}
        marks={markSet([aDnsA, aDnsB, aDnsC, aDnsD])}>
        <Legend />
      </Panel>
      <text x={240} y={334} textAnchor="middle" {...labelStyle}>y/R</text>
      <text transform="translate(22,150) rotate(-90)" textAnchor="middle" {...labelStyle}>
        U/U<tspan fontSize={8} dy={3}>b</tspan>
      </text>
      <text x={242} y={364} textAnchor="middle" {...capStyle}>(a)</text>

      {/* (b) */}
      <Panel id="b" box={boxB} xDomain={[0, 1]} yDomain={[0, 1.5]} xTicks={ticksYR} yTicks={ticksA}
        lines={lineSet(COLS, [bSolidA, bSolidB, bSolidC, bSolidD], [bDotA, bDotB, bDotC, bDotD])}
        marks={markSet([bDnsA, bDnsB, bDnsC, bDnsD])} />
      <text x={697} y={334} textAnchor="middle" {...labelStyle}>y/R</text>
      <text transform="translate(482,162) rotate(-90)" textAnchor="middle" {...labelStyle}>
        (T<tspan fontSize={8} dy={3}>w</tspan><tspan dy={-3}>-T)/(T</tspan><tspan fontSize={8} dy={3}>w</tspan><tspan dy={-3}>-T</tspan><tspan fontSize={8} dy={3}>b</tspan><tspan dy={-3}>)</tspan>
      </text>
      <text x={697} y={364} textAnchor="middle" {...capStyle}>(b)</text>

      {/* (c) */}
      <Panel id="c" box={boxC} xDomain={[0, 100]} yDomain={[0, 0.03]} xTicks={ticksYplus} yTicks={ticksC}
        lines={lineSet(COLS, [cSolidA, cSolidB, cSolidC, cSolidD], [cDotA, cDotB, cDotC, cDotD])}
        marks={markSet([cDnsA, cDnsB, cDnsC, cDnsD])} />
      <YPlus x={244} y={714} />
      <text transform="translate(21,536) rotate(-90)" textAnchor="middle" {...labelStyle}>
        k/U<tspan fontSize={8} dy={3}>b</tspan><tspan fontSize={8} dx={-4.5} dy={-9}>2</tspan>
      </text>
      <text x={242} y={748} textAnchor="middle" {...capStyle}>(c)</text>

      {/* (d) */}
      <Panel id="d" box={boxD} xDomain={[0, 100]} yDomain={[-1, 8]} xTicks={ticksYplus} yTicks={ticksD}
        lines={lineSet(COLS, [dSolidA, dSolidB, dSolidC, dSolidD], [dDotA, dDotB, dDotC, dDotD])}
        marks={markSet([dDnsA, dDnsB, dDnsC, dDnsD])} />
      <YPlus x={695} y={714} />
      <text x={499} y={401} {...labelStyle} fontSize={11}>
        x 10<tspan fontSize={8} dy={-6}>-3</tspan>
      </text>
      <text transform="translate(483,540) rotate(-90)" textAnchor="middle" {...labelStyle}>
        uv/U<tspan fontSize={8} dy={3}>b</tspan><tspan fontSize={8} dx={-4.5} dy={-9}>2</tspan>
      </text>
      <text x={697} y={748} textAnchor="middle" {...capStyle}>(d)</text>

      {/* (e) */}
      <Panel id="e" box={boxE} xDomain={[0, 100]} yDomain={[0, 0.1]} xTicks={ticksYplus} yTicks={ticksE}
        lines={[
          { data: eSolidA, color: BLACK }, { data: eDotA, color: BLACK, dotted: true },
          { data: eSolidB, color: BLUE }, { data: eDotB, color: BLUE, dotted: true },
          { data: eSolidC, color: GREEN }, { data: eDotC, color: GREEN, dotted: true },
          { data: eSolidD, color: RED, linear: true }, { data: eDotD, color: RED, dotted: true },
        ]}
        marks={[]} />
      <YPlus x={253} y={1088} />
      <text transform="translate(29,915) rotate(-90)" textAnchor="middle" {...labelStyle}>
        f<tspan fontSize={8} dy={3}>μ</tspan><tspan dy={-3}> x C</tspan><tspan fontSize={8} dy={3}>μ</tspan>
      </text>
      <text x={253} y={1118} textAnchor="middle" {...capStyle}>(e)</text>

      {/* (f) */}
      <Panel id="f" box={boxF} xDomain={[0, 100]} yDomain={[-5, 25]} xTicks={ticksYplus} yTicks={ticksF}
        lines={lineSet(COLS, [fSolidA, fSolidB, fSolidC, fSolidD], [fDotA, fDotB, fDotC, fDotD])}
        marks={markSet([fDnsA, fDnsB, fDnsC, fDnsD])} />
      <YPlus x={697} y={1088} />
      <text transform="translate(487,915) rotate(-90)" textAnchor="middle" {...labelStyle}>
        μ<tspan fontSize={8} dy={3}>t</tspan><tspan dy={-3}>/μ</tspan>
      </text>
      <text x={706} y={1118} textAnchor="middle" {...capStyle}>(f)</text>
    </svg>
  );
}
